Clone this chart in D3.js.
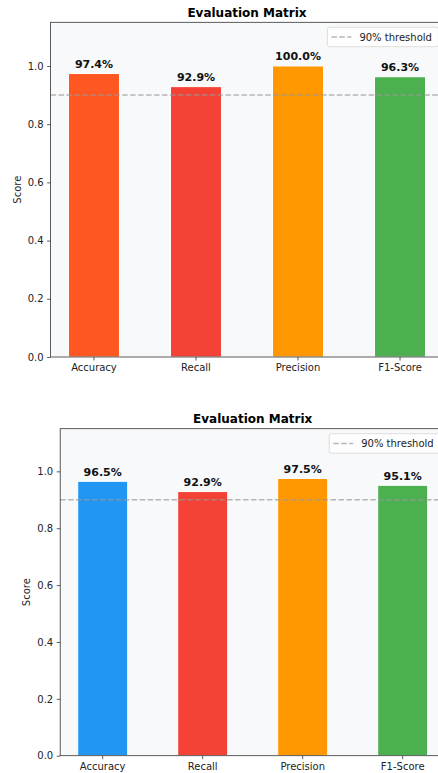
<!DOCTYPE html>
<html>
<head>
<meta charset="utf-8">
<script src="https://cdn.jsdelivr.net/npm/d3@7"></script>
<style>
  html, body { margin: 0; padding: 0; background: #ffffff; }
  svg { display: block; font-family: "DejaVu Sans", sans-serif; }
</style>
</head>
<body>
<svg id="chart" width="438" height="773"></svg>
<script>
// Metric names shared by both panels
const categories = ["Accuracy", "Recall", "Precision", "F1-Score"];

// Scores for each panel (fractions of 1)
const scoresTop = [0.974, 0.929, 1.000, 0.963];
const scoresBottom = [0.965, 0.929, 0.975, 0.951];

// Bar fills for each panel
const colorsTop = ["#FF5722", "#F44336", "#FF9800", "#4CAF50"];
const colorsBottom = ["#2196F3", "#F44336", "#FF9800", "#4CAF50"];

// Y ticks and the reference line
const yTicks = [0.0, 0.2, 0.4, 0.6, 0.8, 1.0];
const yMax = 1.15;
const threshold = 0.9;
const thresholdLabel = "90% threshold";
const chartTitle = "Evaluation Matrix";
const yLabel = "Score";

const svg = d3.select("#chart");

const panels = [
  { scores: scoresTop, colors: colorsTop,
    box: { left: 50.6, right: 443.4, top: 22.3, bottom: 357 } },
  { scores: scoresBottom, colors: colorsBottom,
    box: { left: 60.2, right: 445.2, top: 428.7, bottom: 755.7 } }
];

panels.forEach(p => drawPanel(p));

function drawPanel({ scores, colors, box }) {
  const g = svg.append("g");

  const x = d3.scaleBand()
    .domain(categories)
    .range([box.left, box.right])
    .paddingInner(0.5)
    .paddingOuter(0.175);

  const y = d3.scaleLinear()
    .domain([0, yMax])
    .range([box.bottom, box.top]);

  // plot background
  g.append("rect")
    .attr("x", box.left).attr("y", box.top)
    .attr("width", box.right - box.left)
    .attr("height", box.bottom - box.top)
    .attr("fill", "#f8f9fa");

  // bars
  const data = categories.map((c, i) => ({ name: c, value: scores[i], color: colors[i] }));
  g.selectAll("rect.bar")
    .data(data)
    .join("rect")
    .attr("class", "bar")
    .attr("x", d => x(d.name))
    .attr("width", x.bandwidth())
    .attr("y", d => y(d.value))
    .attr("height", d => y(0) - y(d.value))
    .attr("fill", d => d.color)
    .attr("stroke", "#ffffff")
    .attr("stroke-width", 1);

  // threshold line
  g.append("line")
    .attr("x1", box.left).attr("x2", box.right)
    .attr("y1", y(threshold)).attr("y2", y(threshold))
    .attr("stroke", "#999999")
    .attr("stroke-opacity", 0.7)
    .attr("stroke-width", 1.5)
    .attr("stroke-dasharray", "5.55,2.4");

  // value labels
  g.selectAll("text.val")
    .data(data)
    .join("text")
    .attr("class", "val")
    .attr("x", d => x(d.name) + x.bandwidth() / 2)
    .attr("y", d => y(d.value + 0.01) - 2.6)
    .attr("text-anchor", "middle")
    .attr("font-size", 11)
    .attr("font-weight", "bold")
    .attr("fill", "#111111")
    .text(d => (d.value * 100).toFixed(1) + "%");

  // axes
  const yAxis = d3.axisLeft(y)
    .tickValues(yTicks)
    .tickFormat(d3.format(".1f"))
    .tickSizeInner(3.5).tickSizeOuter(0).tickPadding(3.5);
  const yg = g.append("g")
    .attr("transform", `translate(${box.left},0)`)
    .call(yAxis);

  const xAxis = d3.axisBottom(x)
    .tickSizeInner(3.5).tickSizeOuter(0).tickPadding(3.5);
  const xg = g.append("g")
    .attr("transform", `translate(0,${box.bottom})`)
    .call(xAxis);

  [yg, xg].forEach(a => {
    a.select(".domain").remove();
    a.selectAll(".tick line").attr("stroke", "#333333").attr("stroke-width", 0.8);
    a.selectAll(".tick text")
      .attr("font-size", 10)
      .attr("fill", "#222222")
      .attr("font-family", "DejaVu Sans, sans-serif");
  });

  // frame
  g.append("rect")
    .attr("x", box.left).attr("y", box.top)
    .attr("width", box.right - box.left)
    .attr("height", box.bottom - box.top)
    .attr("fill", "none")
    .attr("stroke", "#333333")
    .attr("stroke-width", 0.8);

  // title
  g.append("text")
    .attr("x", (box.left + box.right) / 2)
    .attr("y", box.top - 5.5)
    .attr("text-anchor", "middle")
    .attr("font-size", 12)
    .attr("font-weight", "bold")
    .attr("fill", "#000000")
    .text(chartTitle);

  // y label
  g.append("text")
    .attr("transform", `translate(${box.left - 30},${(box.top + box.bottom) / 2}) rotate(-90)`)
    .attr("text-anchor", "middle")
    .attr("font-size", 10)
    .attr("fill", "#222222")
    .text(yLabel);

  // legend
  const lw = 111, lh = 19.4;
  const lx = box.right - 5 - lw, ly = box.top + 5;
  const lg = g.append("g");
  lg.append("rect")
    .attr("x", lx).attr("y", ly)
    .attr("width", lw).attr("height", lh)
    .attr("rx", 2)
    .attr("fill", "#ffffff").attr("fill-opacity", 0.8)
    .attr("stroke", "#d6d6d6").attr("stroke-width", 0.8);
  lg.append("line")
    .attr("x1", lx + 4).attr("x2", lx + 24)
    .attr("y1", ly + lh / 2).attr("y2", ly + lh / 2)
    .attr("stroke", "#999999")
    .attr("stroke-opacity", 0.7)
    .attr("stroke-width", 1.5)
    .attr("stroke-dasharray", "5.55,2.4");
  lg.append("text")
    .attr("x", lx + 32).attr("y", ly + lh / 2 + 3.6)
    .attr("font-size", 10)
    .attr("fill", "#222222")
    .text(thresholdLabel);
}
</script>
</body>
</html>
